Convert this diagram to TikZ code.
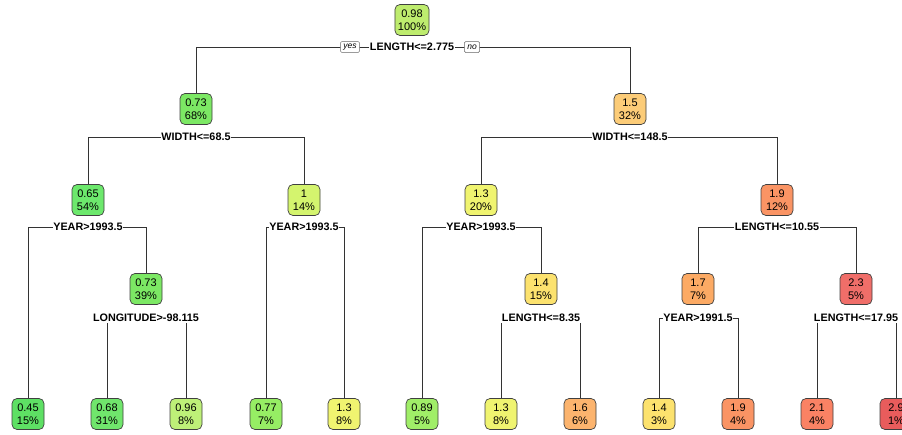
\documentclass[tikz,border=0pt]{standalone}
\usepackage{fontspec}
\setmainfont{Liberation Sans}
\usetikzlibrary{backgrounds}
\definecolor{cA}{RGB}{94,224,100}   % 0.45
\definecolor{cB}{RGB}{108,232,108}  % 0.65
\definecolor{cC}{RGB}{112,230,108}  % 0.68
\definecolor{cD}{RGB}{124,232,100}  % 0.73
\definecolor{cE}{RGB}{150,238,100}  % 0.77
\definecolor{cF}{RGB}{160,238,104}  % 0.89
\definecolor{cG}{RGB}{190,240,120}  % 0.96
\definecolor{cH}{RGB}{190,236,110}  % 0.98
\definecolor{cI}{RGB}{212,244,110}  % 1
\definecolor{cJ}{RGB}{240,244,112}  % 1.3
\definecolor{cK}{RGB}{252,226,110}  % 1.4
\definecolor{cL}{RGB}{252,204,120}  % 1.5
\definecolor{cM}{RGB}{252,180,110}  % 1.6
\definecolor{cN}{RGB}{252,170,100}  % 1.7
\definecolor{cO}{RGB}{250,148,100}  % 1.9
\definecolor{cP}{RGB}{250,130,100}  % 2.1
\definecolor{cQ}{RGB}{240,110,105}  % 2.3
\definecolor{cR}{RGB}{232,92,92}    % 2.9
\tikzset{
  tnode/.style={draw=black!75, line width=0.7pt, rounded corners=5pt, align=center,
    inner xsep=3pt, inner ysep=2pt, minimum width=32pt, minimum height=31pt,
    font=\fontsize{11}{13}\selectfont},
  split/.style={fill=white, inner xsep=0.8pt, inner ysep=1pt,
    font=\bfseries\fontsize{10.8}{12}\selectfont},
  yn/.style={draw=black!60, fill=white, rounded corners=1.5pt, line width=0.5pt,
    font=\itshape\fontsize{8.5}{9}\selectfont, inner xsep=3pt, inner ysep=1.2pt,
    minimum height=11pt},
  edge/.style={draw=black!80, line width=0.6pt}
}
\begin{document}
\begin{tikzpicture}[x=1pt,y=-1pt]
\useasboundingbox (0,0) rectangle (902,434);
% internal nodes
\node[tnode, fill=cH] (root) at (412,20) {0.98\\100\%};
\node[split] (s0) at (412,47) {LENGTH<=2.775};
\node[tnode, fill=cD] (n1) at (196,109) {0.73\\68\%};
\node[tnode, fill=cL] (n2) at (630,109) {1.5\\32\%};
\node[split] (s1) at (196,137) {WIDTH<=68.5};
\node[split] (s2) at (630,137) {WIDTH<=148.5};
\node[tnode, fill=cB] (n3) at (88,200) {0.65\\54\%};
\node[tnode, fill=cI] (n4) at (304,200) {1\\14\%};
\node[tnode, fill=cJ] (n5) at (481,200) {1.3\\20\%};
\node[tnode, fill=cO] (n6) at (777,200) {1.9\\12\%};
\node[split] (s3) at (88,227) {YEAR>1993.5};
\node[split] (s4) at (304,227) {YEAR>1993.5};
\node[split] (s5) at (481,227) {YEAR>1993.5};
\node[split] (s6) at (777,227) {LENGTH<=10.55};
\node[tnode, fill=cD] (n8) at (146,289) {0.73\\39\%};
\node[tnode, fill=cK] (n12) at (541,289) {1.4\\15\%};
\node[tnode, fill=cN] (n13) at (698,289) {1.7\\7\%};
\node[tnode, fill=cQ] (n14) at (856,289) {2.3\\5\%};
\node[split] (s8) at (146,318) {LONGITUDE>-98.115};
\node[split] (s12) at (541,318) {LENGTH<=8.35};
\node[split] (s13) at (698,318) {YEAR>1991.5};
\node[split] (s14) at (856,318) {LENGTH<=17.95};
% leaves
\node[tnode, fill=cA] (l1) at (28,414) {0.45\\15\%};
\node[tnode, fill=cC] (l2) at (107,414) {0.68\\31\%};
\node[tnode, fill=cG] (l3) at (186,414) {0.96\\8\%};
\node[tnode, fill=cE] (l4) at (266,414) {0.77\\7\%};
\node[tnode, fill=cJ] (l5) at (344,414) {1.3\\8\%};
\node[tnode, fill=cF] (l6) at (422,414) {0.89\\5\%};
\node[tnode, fill=cJ] (l7) at (501,414) {1.3\\8\%};
\node[tnode, fill=cM] (l8) at (580,414) {1.6\\6\%};
\node[tnode, fill=cK] (l9) at (659,414) {1.4\\3\%};
\node[tnode, fill=cO] (l10) at (738,414) {1.9\\4\%};
\node[tnode, fill=cP] (l11) at (817,414) {2.1\\4\%};
\node[tnode, fill=cR] (l12) at (896,414) {2.9\\1\%};
% connectors, behind the labels
\begin{pgfonlayer}{background}
\draw[edge] (s0.center) -| (n1);  \draw[edge] (s0.center) -| (n2);
\draw[edge] (s1.center) -| (n3);  \draw[edge] (s1.center) -| (n4);
\draw[edge] (s2.center) -| (n5);  \draw[edge] (s2.center) -| (n6);
\draw[edge] (s3.center) -| (l1);  \draw[edge] (s3.center) -| (n8);
\draw[edge] (s4.center) -| (l4);  \draw[edge] (s4.center) -| (l5);
\draw[edge] (s5.center) -| (l6);  \draw[edge] (s5.center) -| (n12);
\draw[edge] (s6.center) -| (n13); \draw[edge] (s6.center) -| (n14);
\draw[edge] (s8.center) -| (l2);  \draw[edge] (s8.center) -| (l3);
\draw[edge] (s12.center) -| (l7); \draw[edge] (s12.center) -| (l8);
\draw[edge] (s13.center) -| (l9); \draw[edge] (s13.center) -| (l10);
\draw[edge] (s14.center) -| (l11); \draw[edge] (s14.center) -| (l12);
\end{pgfonlayer}
% yes / no tags
\node[yn] (yes) at (350,47) {yes};
\node[yn] (no) at (472,47) {no};
\end{tikzpicture}
\end{document}
